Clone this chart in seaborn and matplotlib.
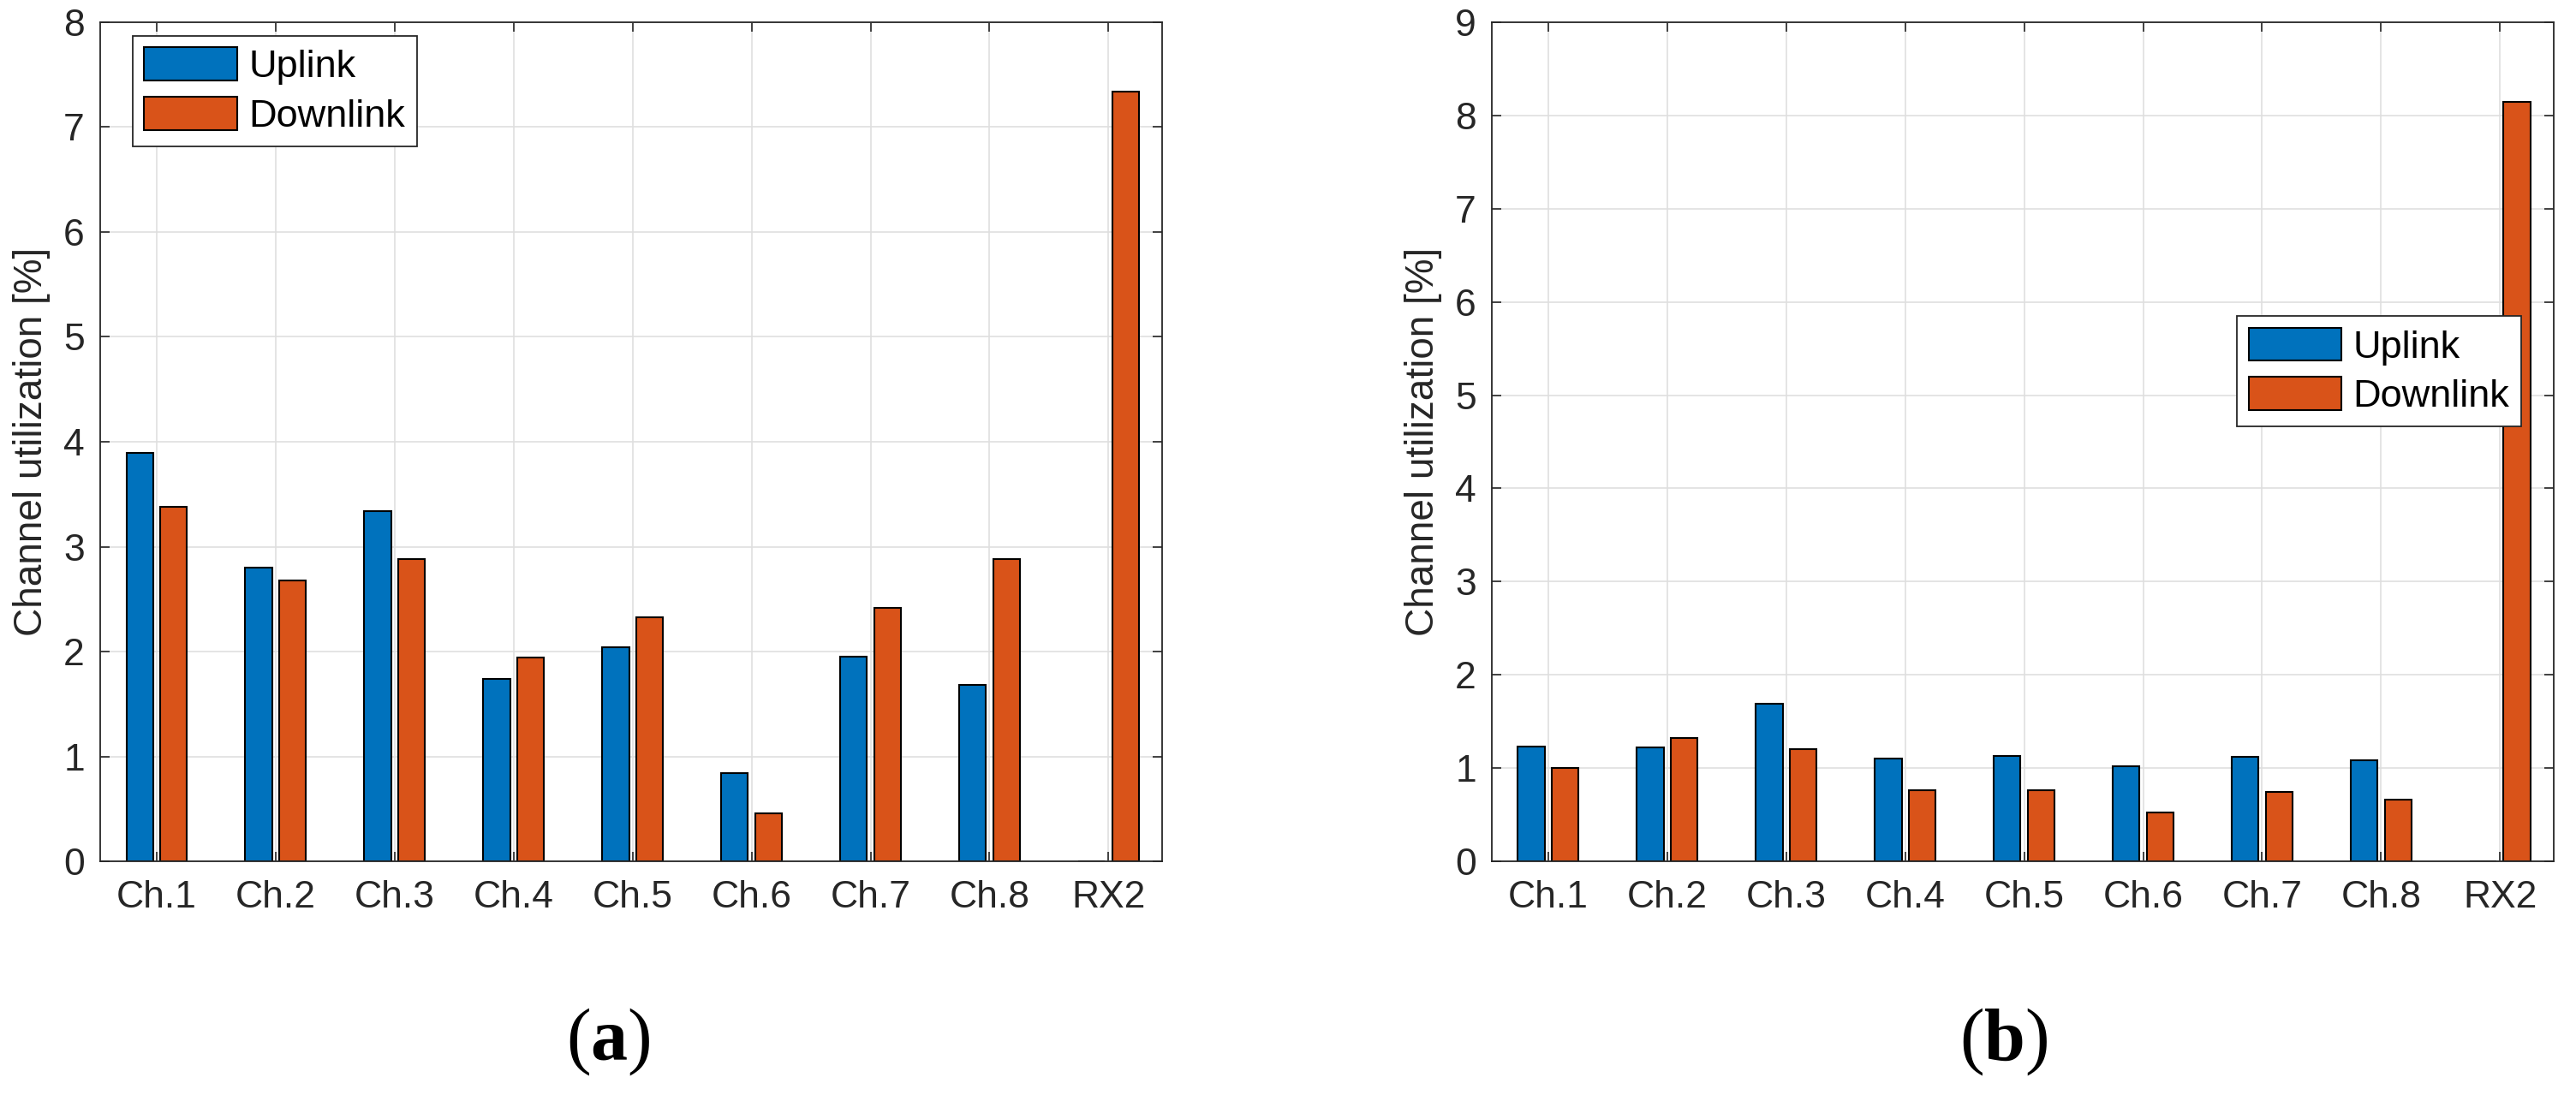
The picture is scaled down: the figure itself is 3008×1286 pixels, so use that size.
import seaborn as sns
import matplotlib.pyplot as plt
import pandas as pd

channels = ["Ch.1", "Ch.2", "Ch.3", "Ch.4", "Ch.5", "Ch.6", "Ch.7", "Ch.8", "RX2"]
uplink_a = [3.89, 2.80, 3.34, 1.74, 2.04, 0.84, 1.95, 1.68, 0.0]
downlink_a = [3.38, 2.68, 2.88, 1.94, 2.33, 0.46, 2.42, 2.88, 7.34]
uplink_b = [1.23, 1.22, 1.69, 1.10, 1.13, 1.02, 1.12, 1.08, 0.0]
downlink_b = [1.00, 1.32, 1.20, 0.76, 0.76, 0.52, 0.74, 0.66, 8.15]

BLUE = "#0072BD"
ORANGE = "#D95319"
DARK = "#262626"

plt.rcParams["font.family"] = ["Liberation Sans", "DejaVu Sans"]
plt.rcParams["mathtext.fontset"] = "custom"
plt.rcParams["mathtext.bf"] = "Liberation Serif:bold"
plt.rcParams["mathtext.rm"] = "Liberation Serif"


def make_df(up, down):
    df = pd.DataFrame({"Channel": channels, "Uplink": up, "Downlink": down})
    return df.melt(id_vars="Channel", var_name="Link", value_name="Util")


def draw_panel(ax, up, down, ymax, legend_anchor, legend_loc):
    df = make_df(up, down)
    sns.barplot(data=df, x="Channel", y="Util", hue="Link", order=channels,
                hue_order=["Uplink", "Downlink"], palette=[BLUE, ORANGE],
                saturation=1, width=0.57, gap=0.21, errorbar=None,
                edgecolor="black", linewidth=1.5, ax=ax)
    ax.set_xlim(-0.475, 8.45)
    ax.set_ylim(0, ymax)
    ax.set_yticks(range(0, ymax + 1))
    ax.set_xlabel("")
    ax.set_ylabel("Channel utilization [%]", fontsize=33, color=DARK, labelpad=11)
    ax.set_axisbelow(True)
    ax.grid(True, color="#dfdfdf", linewidth=1.2)
    ax.tick_params(axis="both", direction="in", length=8, width=1.2, colors=DARK,
                   labelsize=32, top=True, right=True)
    ax.tick_params(axis="x", pad=16)
    ax.tick_params(axis="y", pad=13)
    for s in ax.spines.values():
        s.set_color(DARK)
        s.set_linewidth(1.3)
    handles, labels = ax.get_legend_handles_labels()
    leg = ax.legend(handles, labels, loc=legend_loc, bbox_to_anchor=legend_anchor,
                    borderaxespad=0, fontsize=32.5, handlelength=2.4,
                    handleheight=0.95, handletextpad=0.3, labelspacing=0.3,
                    borderpad=0.3, fancybox=False, framealpha=1,
                    edgecolor=DARK)
    leg.get_frame().set_linewidth(1.3)


fig = plt.figure(figsize=(30.08, 12.86), dpi=100)
ax1 = fig.add_axes([0.0389, 0.2177, 0.4122, 0.7621])
ax2 = fig.add_axes([0.5791, 0.2177, 0.4122, 0.7621])

draw_panel(ax1, uplink_a, downlink_a, 8, (0.0306, 0.9837), "upper left")
draw_panel(ax2, uplink_b, downlink_b, 9, (0.9694, 0.65), "upper right")

fig.text(710 / 3008, 1 - 1217 / 1286, r"($\mathbf{a}$)", fontsize=62,
         family="Liberation Serif", ha="center", va="center")
fig.text(2340 / 3008, 1 - 1217 / 1286, r"($\mathbf{b}$)", fontsize=62,
         family="Liberation Serif", ha="center", va="center")

fig.savefig("out.png", dpi=100)
